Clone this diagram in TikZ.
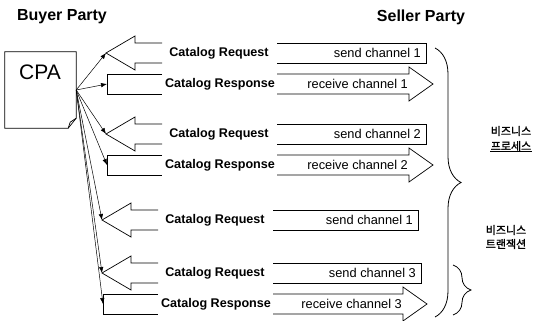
\documentclass[tikz,border=0pt]{standalone}
\usepackage{fontspec}
\setmainfont{Liberation Sans}
\newfontfamily\krfont[AutoFakeBold=1.5]{Noto Sans CJK KR}
\usetikzlibrary{arrows.meta, calc, decorations.pathreplacing}

\begin{document}
\begin{tikzpicture}[x=1pt, y=-1pt,
  chan/.style={line width=0.7pt},
  msg/.style={font=\fontsize{12.6}{15}\selectfont\bfseries, inner sep=0pt},
  chantext/.style={font=\fontsize{12.8}{15}\selectfont, inner sep=0pt, anchor=east},
  party/.style={font=\fontsize{16}{19}\selectfont\bfseries, inner sep=0pt},
  link/.style={line width=0.5pt, -{Latex[length=6pt, width=4.5pt]}},
  brc/.style={line width=0.8pt, decorate, decoration={brace, amplitude=#1}},
  kr/.style={font=\krfont\fontsize{11}{13}\selectfont\bfseries, inner sep=0.5pt}]
\useasboundingbox (0,0) rectangle (542,321);

\node[party] (buyer) at (62,17) {Buyer Party};
\node[party] (seller) at (421,17) {Seller Party};

% CPA document, folded corner bottom right
\node[minimum width=71pt, minimum height=76pt, inner sep=0pt] (cpa) at (40.5,90) {};
\draw[chan] (cpa.north west) -- (cpa.north east) -- ($(cpa.south east)+(0,-10)$) -- ($(cpa.south east)+(-8,0)$) -- (cpa.south west) -- cycle;
\draw[chan] ($(cpa.south east)+(0,-10)$) -- ($(cpa.south east)+(-6,-6)$) -- ($(cpa.south east)+(-8,0)$);
\node[font=\fontsize{21}{24}\selectfont, inner sep=0pt] (cpalabel) at (40,72) {CPA};

% request channels (arrow points back to the buyer)
\foreach \y/\dx/\xr/\ch [count=\i] in {53/0/426/1, 134/0/426/2, 220/-4/418/1, 273/-4/421/3}{
  \draw[chan] (162+\dx,\y-10) -- (135+\dx,\y-10) -- (135+\dx,\y-17) -- (106+\dx,\y) coordinate (reqtip\i)
    -- (135+\dx,\y+17) -- (135+\dx,\y+10) -- (162+\dx,\y+10);
  \draw[chan] (277+\dx,\y-10) -- (\xr,\y-10) -- (\xr,\y+10) -- (277+\dx,\y+10);
  \node[msg] (req\i) at (219+\dx,\y) {Catalog Request};
  \node[chantext] (send\i) at (\xr-5,\y) {send channel \ch};
  \draw[link] (cpa.east) -- (reqtip\i);
}

% response channels (arrow points to the seller)
\foreach \y/\dx/\xt/\ch [count=\i] in {84/0/433/1, 165/0/433/2, 304/-4/427/3}{
  \coordinate (rsptip\i) at (107+\dx,\y);
  \draw[chan] (162+\dx,\y-10) -- (107+\dx,\y-10) -- (107+\dx,\y+10) -- (162+\dx,\y+10);
  \draw[chan] (277+\dx,\y-10) -- (\xt-24,\y-10) -- (\xt-24,\y-17) -- (\xt,\y)
    -- (\xt-24,\y+17) -- (\xt-24,\y+10) -- (277+\dx,\y+10);
  \node[msg] (rsp\i) at (220+\dx,\y) {Catalog Response};
  \node[chantext] (recv\i) at (\xt-25,\y) {receive channel \ch};
  \draw[link] (cpa.east) -- (rsptip\i);
}

% braces
\draw[brc=26pt] (435,48) -- (435,317);
\draw[brc=18pt] (453,265) -- (453,315);

\node[kr] (procA) at (511,131) {비즈니스};
\node[kr] (procB) at (511,146) {프로세스};
\draw[line width=0.6pt] (procB.south west) -- (procB.south east);
\node[kr] (txA) at (506,230) {비즈니스};
\node[kr] (txB) at (506,244) {트랜잭션};
\end{tikzpicture}
\end{document}
